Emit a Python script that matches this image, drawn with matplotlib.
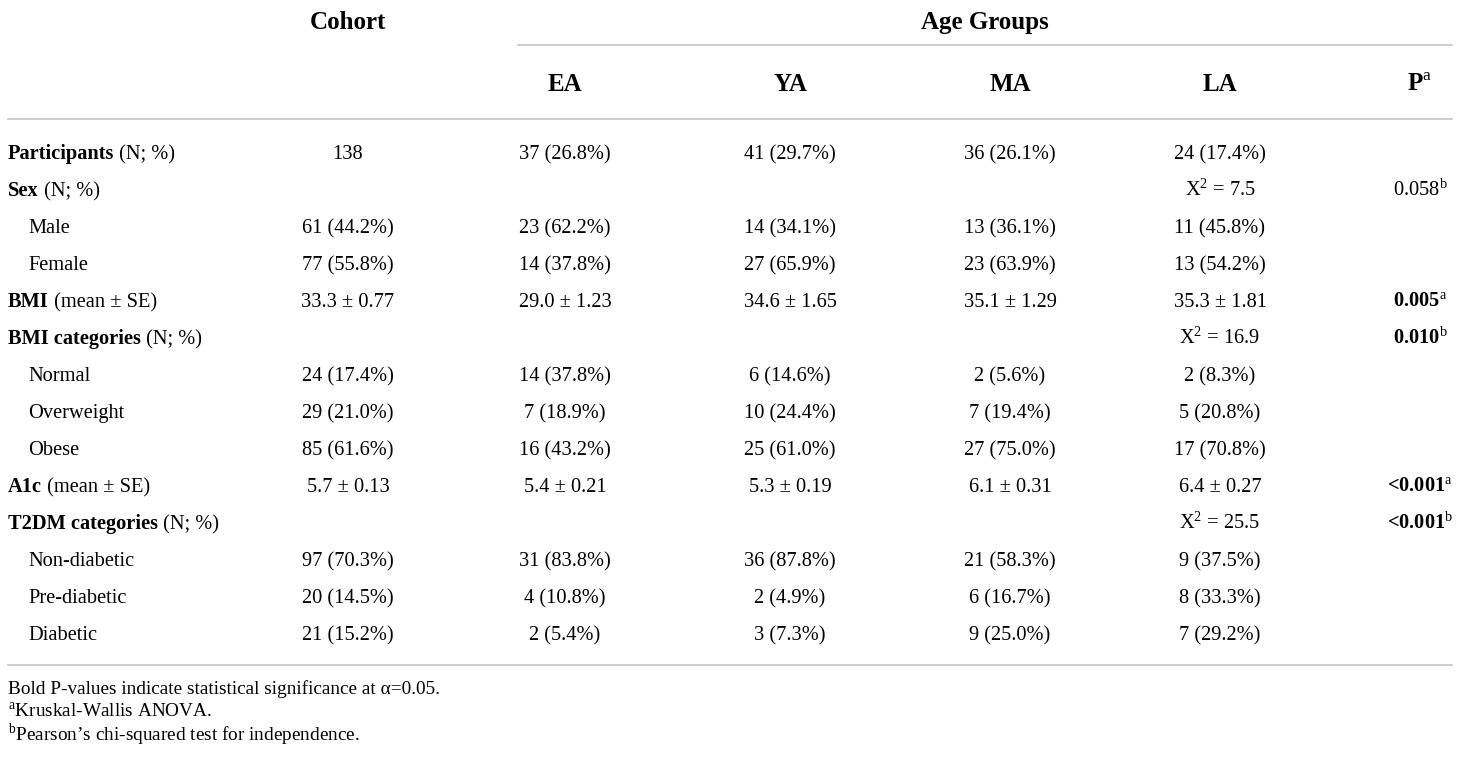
import matplotlib.pyplot as plt

plt.rcParams['font.family'] = ['Liberation Serif', 'DejaVu Serif']
plt.rcParams['mathtext.fontset'] = 'custom'
plt.rcParams['mathtext.rm'] = 'Liberation Serif'
plt.rcParams['mathtext.bf'] = 'Liberation Serif:bold'

# row labels: (bold part, normal part)
row_bold = ['Participants', 'Sex', '', '', 'BMI', 'BMI categories', '', '', '',
            'A1c', 'T2DM categories', '', '', '']
row_rest = [' (N; %)', ' (N; %)', 'Male', 'Female', ' (mean ± SE)', ' (N; %)',
            'Normal', 'Overweight', 'Obese', ' (mean ± SE)', ' (N; %)',
            'Non-diabetic', 'Pre-diabetic', 'Diabetic']

cohort = ['138', '', '61 (44.2%)', '77 (55.8%)', '33.3 ± 0.77', '', '24 (17.4%)',
          '29 (21.0%)', '85 (61.6%)', '5.7 ± 0.13', '', '97 (70.3%)', '20 (14.5%)',
          '21 (15.2%)']
ea = ['37 (26.8%)', '', '23 (62.2%)', '14 (37.8%)', '29.0 ± 1.23', '', '14 (37.8%)',
      '7 (18.9%)', '16 (43.2%)', '5.4 ± 0.21', '', '31 (83.8%)', '4 (10.8%)', '2 (5.4%)']
ya = ['41 (29.7%)', '', '14 (34.1%)', '27 (65.9%)', '34.6 ± 1.65', '', '6 (14.6%)',
      '10 (24.4%)', '25 (61.0%)', '5.3 ± 0.19', '', '36 (87.8%)', '2 (4.9%)', '3 (7.3%)']
ma = ['36 (26.1%)', '', '13 (36.1%)', '23 (63.9%)', '35.1 ± 1.29', '', '2 (5.6%)',
      '7 (19.4%)', '27 (75.0%)', '6.1 ± 0.31', '', '21 (58.3%)', '6 (16.7%)', '9 (25.0%)']
la = ['24 (17.4%)', r'X$^{2}$ = 7.5', '11 (45.8%)', '13 (54.2%)', '35.3 ± 1.81',
      r'X$^{2}$ = 16.9', '2 (8.3%)', '5 (20.8%)', '17 (70.8%)', '6.4 ± 0.27',
      r'X$^{2}$ = 25.5', '9 (37.5%)', '8 (33.3%)', '7 (29.2%)']
p_val = ['', '0.058', '', '', '0.005', '0.010', '', '', '', '<0.001', '<0.001', '', '', '']
p_sup = ['', 'b', '', '', 'a', 'b', '', '', '', 'a', 'b', '', '', '']
p_bold = [False, False, False, False, True, True, False, False, False, True, True,
          False, False, False]

footnotes = [('', 'Bold P-values indicate statistical significance at α=0.05.'),
             ('a', 'Kruskal-Wallis ANOVA.'),
             ('b', 'Pearson’s chi-squared test for independence.')]

W, H = 1460, 757
fig = plt.figure(figsize=(W / 100, H / 100), dpi=100)
ax = fig.add_axes([0, 0, 1, 1])
ax.set_xlim(0, W)
ax.set_ylim(H, 0)
ax.axis('off')

fs = 14.7
hfs = 18
col_x = [348, 565, 790, 1010, 1220, 1420]
line_c = '#c4c4c4'

# headers
ax.text(col_x[0], 29, 'Cohort', ha='center', va='baseline', fontsize=hfs, fontweight='bold')
ax.text(985, 29, 'Age Groups', ha='center', va='baseline', fontsize=hfs, fontweight='bold')
ax.plot([518, 1452], [45, 45], color=line_c, lw=1.2)
for x, lab in zip(col_x[1:5], ['EA', 'YA', 'MA', 'LA']):
    ax.text(x, 91, lab, ha='center', va='baseline', fontsize=hfs, fontweight='bold')
ax.text(col_x[5], 91, r'P$^{\mathrm{a}}$', ha='center', va='baseline', fontsize=hfs,
        fontweight='bold')
ax.plot([8, 1452], [119, 119], color=line_c, lw=1.2)

y0, dy = 159, 37
for i in range(len(row_rest)):
    y = y0 + i * dy
    if row_bold[i]:
        t = ax.text(8, y, row_bold[i], ha='left', va='baseline', fontsize=fs,
                    fontweight='bold')
        ax.annotate(row_rest[i], xy=(1, 0), xycoords=t, ha='left', va='bottom',
                    fontsize=fs)
    else:
        ax.text(28, y, row_rest[i], ha='left', va='baseline', fontsize=fs)
    for x, col in zip(col_x[:5], [cohort, ea, ya, ma, la]):
        if col[i]:
            ax.text(x, y, col[i], ha='center', va='baseline', fontsize=fs)
    if p_val[i]:
        ax.text(col_x[5], y, p_val[i] + r'$^{\mathrm{' + p_sup[i] + '}}$', ha='center',
                va='baseline', fontsize=fs, fontweight='bold' if p_bold[i] else 'normal')

ax.plot([8, 1452], [665, 665], color=line_c, lw=1.2)

for j, (sup, txt) in enumerate(footnotes):
    s = txt if not sup else r'$^{\mathrm{' + sup + '}}$' + txt
    ax.text(8, 694 + j * 23.5, s, ha='left', va='baseline', fontsize=13.9)

fig.savefig('out.png', dpi=100, facecolor='white')
